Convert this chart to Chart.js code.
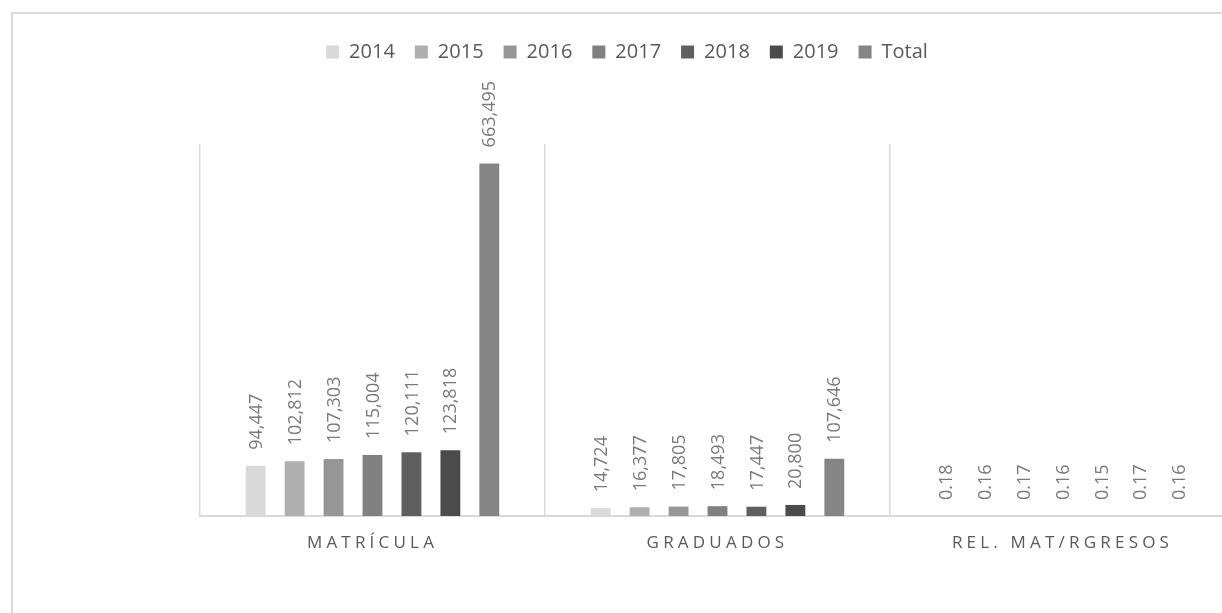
<!DOCTYPE html>
<html>
<head>
<meta charset="utf-8">
<script src="https://cdn.jsdelivr.net/npm/chart.js@4.4.1/dist/chart.umd.min.js"></script>
<style>
html,body{margin:0;padding:0;background:#fff;overflow:hidden;width:1222px;height:613px;}
#frame{position:absolute;left:11px;top:12px;width:1300px;height:700px;border:2px solid #d9d9d9;box-sizing:border-box;}
#wrap{position:absolute;left:0;top:0;width:1240px;height:613px;}
</style>
</head>
<body>
<div id="frame"></div>
<div id="wrap"><canvas id="c" width="1240" height="613"></canvas></div>
<script>
const categories = ['MATRÍCULA', 'GRADUADOS', 'REL. MAT/RGRESOS'];
const seriesNames = ['2014', '2015', '2016', '2017', '2018', '2019', 'Total'];
const matricula = [94447, 102812, 107303, 115004, 120111, 123818, 663495];
const graduados = [14724, 16377, 17805, 18493, 17447, 20800, 107646];
const relMat = [0.18, 0.16, 0.17, 0.16, 0.15, 0.17, 0.16];
const colors = ['#d9d9d9', '#afafaf', '#969696', '#808080', '#5f5f5f', '#4b4b4b', '#858585'];
const yMax = 700000;

const datasets = seriesNames.map((n, i) => ({
  label: n,
  data: [matricula[i], graduados[i], relMat[i]],
  backgroundColor: colors[i],
  borderWidth: 0,
  barPercentage: 0.51,
  categoryPercentage: 0.79
}));

const labelPlugin = {
  id: 'vlabels',
  beforeDraw(chart) {
    const xs = chart.scales.x;
    if (!xs._patched) {
      const orig = xs.drawLabels.bind(xs);
      xs.drawLabels = function (a) {
        const ctx = this.ctx;
        ctx.save();
        ctx.letterSpacing = '4.2px';
        orig(a);
        ctx.restore();
      };
      xs._patched = true;
    }
  },
  afterDatasetsDraw(chart) {
    const ctx = chart.ctx;
    ctx.save();
    ctx.font = '18px "Open Sans", sans-serif';
    ctx.fillStyle = '#7a7a7a';
    ctx.textAlign = 'left';
    ctx.textBaseline = 'middle';
    chart.data.datasets.forEach((ds, di) => {
      const meta = chart.getDatasetMeta(di);
      meta.data.forEach((bar, j) => {
        const v = ds.data[j];
        const txt = v < 1 ? v.toFixed(2) : v.toLocaleString('en-US');
        ctx.save();
        ctx.translate(bar.x + 1, bar.y - 16);
        ctx.rotate(-Math.PI / 2);
        ctx.fillText(txt, 0, 0);
        ctx.restore();
      });
    });
    ctx.restore();
  }
};

new Chart(document.getElementById('c'), {
  type: 'bar',
  data: { labels: categories, datasets },
  options: {
    responsive: false,
    animation: false,
    layout: { padding: { left: 19, right: 5, top: 22, bottom: 0 } },
    plugins: {
      legend: {
        position: 'top',
        labels: {
          font: { size: 20, family: '"Open Sans", sans-serif' },
          color: '#595959',
          boxWidth: 13,
          boxHeight: 13,
          padding: 20
        }
      },
      tooltip: { enabled: false }
    },
    scales: {
      x: {
        grid: { display: true, color: '#d9d9d9', lineWidth: 1.5, drawTicks: false },
        border: { display: true, color: '#d9d9d9', width: 2 },
        ticks: {
          font: { size: 17, family: '"Open Sans", sans-serif' },
          color: '#595959',
          padding: 17,
          maxRotation: 0
        },
        afterFit(s) { s.height = 97; }
      },
      xTop: {
        type: 'category',
        position: 'top',
        display: true,
        grid: { display: false, drawTicks: false },
        border: { display: false },
        ticks: { display: false },
        afterFit(s) { s.height = 72; }
      },
      y: {
        display: true,
        min: 0,
        max: yMax,
        grid: { display: false, drawTicks: false },
        border: { display: false },
        ticks: { display: false },
        afterFit(s) { s.width = 181; }
      }
    }
  },
  plugins: [labelPlugin]
});
</script>
</body>
</html>
